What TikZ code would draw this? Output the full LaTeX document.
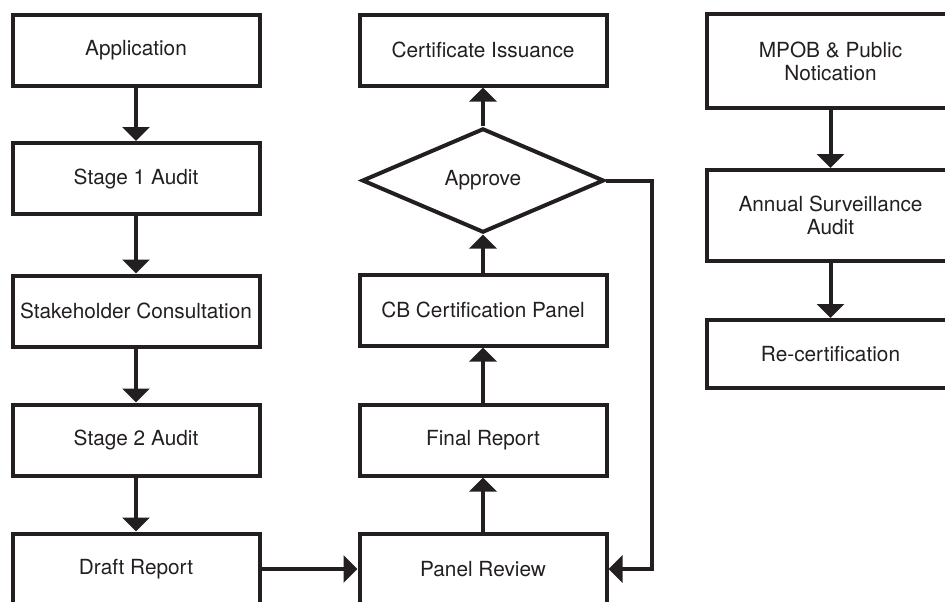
\documentclass[tikz,border=0pt]{standalone}
\usepackage{fontspec}
\setmainfont{TeX Gyre Heros}
\usetikzlibrary{shapes.geometric,arrows.meta}
\definecolor{ink}{HTML}{231F20}

\begin{document}
\begin{tikzpicture}[x=0.5pt, y=-0.5pt,
  every text node part/.style={align=center},
  every node/.style={font=\fontsize{10.4}{11.5}\selectfont, text=ink},
  box/.style={draw=ink, line width=2pt, shape=rectangle,
    minimum width=123.5pt, minimum height=35.5pt, inner sep=2pt},
  decision/.style={draw=ink, line width=2pt, shape=diamond,
    minimum width=121pt, minimum height=36.5pt, inner sep=1pt},
  flow/.style={draw=ink, line width=2pt,
    -{Triangle[width=13.5pt,length=7pt]}}]
  \useasboundingbox (0,0) rectangle (945,601);
  % audit column
  \node (app) [box] at (136,50) {Application};
  \node (st1) [box] at (136,178.5) {Stage 1 Audit};
  \node (cons) [box] at (136,311) {Stakeholder Consultation};
  \node (st2) [box] at (136,440) {Stage 2 Audit};
  \node (draft) [box] at (136,569) {Draft Report};
  % decision column
  \node (cert) [box] at (483,50) {Certificate Issuance};
  \node (ok) [decision] at (483,180.5) {Approve};
  \node (panel) [box] at (483,310) {CB Certification Panel};
  \node (final) [box] at (483,440) {Final Report};
  \node (review) [box] at (483,569) {Panel Review};
  % after certification
  \node (mpob) [box, minimum height=47pt] at (830.5,61) {MPOB \& Public \\ Notication};
  \node (surv) [box, minimum height=45.5pt] at (830.5,215.5) {Annual Surveillance \\ Audit};
  \node (recert) [box, minimum height=34pt] at (830.5,354) {Re-certification};
  \draw[flow] (app) -- (st1);
  \draw[flow] (st1) -- (cons);
  \draw[flow] (cons) -- (st2);
  \draw[flow] (st2) -- (draft);
  \draw[flow] (draft) -- (review);
  \draw[flow] (review) -- (final);
  \draw[flow] (final) -- (panel);
  \draw[flow] (panel) -- (ok);
  \draw[flow] (ok) -- (cert);
  \draw[flow] (ok.east) -- ++(46,0) |- (review.east);
  \draw[flow] (mpob) -- (surv);
  \draw[flow] (surv) -- (recert);
\end{tikzpicture}
\end{document}
